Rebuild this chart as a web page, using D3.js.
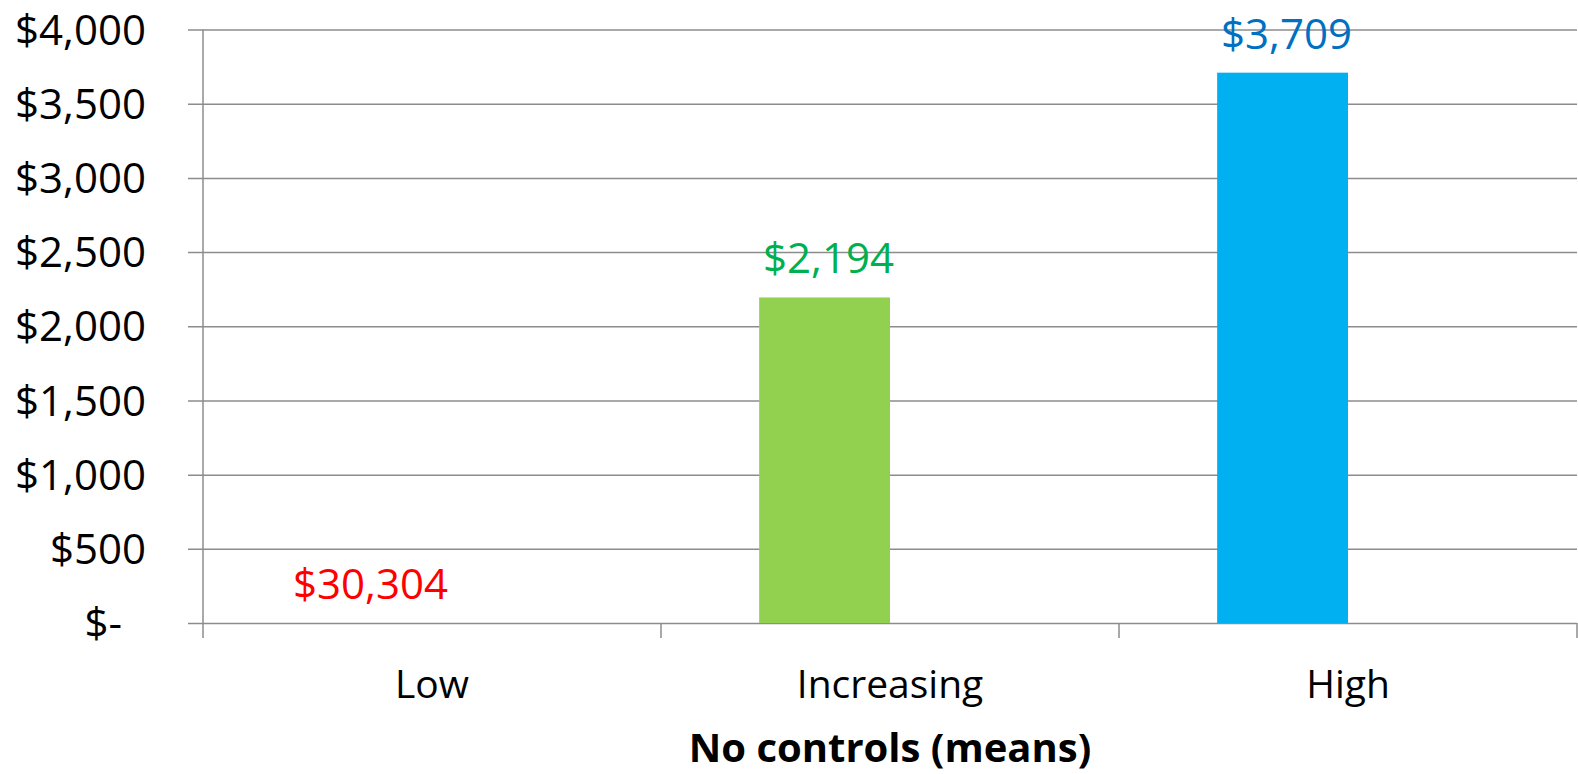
<!DOCTYPE html>
<html>
<head>
<meta charset="utf-8">
<script src="https://cdn.jsdelivr.net/npm/d3@7"></script>
<style>
  html, body { margin: 0; padding: 0; background: #fff; }
  svg { display: block; }
  svg text { font-family: "Open Sans", "Noto Sans", sans-serif; }
</style>
</head>
<body>
<svg id="chart" width="1578" height="774"></svg>
<script>
// Income groups and their mean values
const categories = ["Low", "Increasing", "High"];
const meanValues = [0, 2194, 3709];
const valueLabels = ["$30,304", "$2,194", "$3,709"];
const barColors = ["#FF0000", "#92D050", "#00B0F0"];
const labelColors = ["#FF0000", "#00B050", "#0070C0"];
const yTicks = [0, 500, 1000, 1500, 2000, 2500, 3000, 3500, 4000];
const xTitle = "No controls (means)";

// Two slots per category (the second one is unused), Excel-style gap of 150%
const slots = ["means", "unused"];

const svg = d3.select("#chart");
const plot = { left: 203, right: 1577, top: 29.5, bottom: 623 };

const x = d3.scaleBand()
  .domain(categories)
  .range([plot.left, plot.right])
  .paddingInner(0)
  .paddingOuter(0);

const xSlot = d3.scaleBand()
  .domain(slots)
  .range([0, x.bandwidth()])
  .paddingInner(0)
  .paddingOuter(0.75);

const y = d3.scaleLinear()
  .domain([0, 4000])
  .range([plot.bottom, plot.top]);

const gridColor = "#8C8C8C";
const fmt = d3.format(",");
const tickFormat = v => v === 0 ? "$-\u2007" : "$" + fmt(v);

// Y axis with gridlines across the plot
const yAxis = d3.axisLeft(y)
  .tickValues(yTicks)
  .tickFormat(tickFormat)
  .tickSize(-(plot.right - plot.left + 15))
  .tickPadding(0);

const gy = svg.append("g")
  .attr("transform", `translate(${plot.left - 15},0)`)
  .call(yAxis)
  .attr("font-family", null)
  .attr("font-size", null);
gy.select(".domain").remove();
gy.selectAll(".tick line")
  .attr("stroke", gridColor)
  .attr("stroke-width", 1.5);
gy.selectAll(".tick text")
  .attr("x", -42)
  .attr("dy", "0.35em")
  .attr("fill", "#000")
  .style("font-size", "42px");

// Vertical axis line
svg.append("line")
  .attr("x1", plot.left).attr("x2", plot.left)
  .attr("y1", plot.top).attr("y2", plot.bottom + 15)
  .attr("stroke", gridColor)
  .attr("stroke-width", 1.5);

// Category axis
const xAxis = d3.axisBottom(x).tickSize(0).tickPadding(0);
const gx = svg.append("g")
  .attr("transform", `translate(0,${plot.bottom})`)
  .call(xAxis)
  .attr("font-family", null)
  .attr("font-size", null);
gx.select(".domain").remove();
gx.selectAll(".tick text")
  .attr("y", 75)
  .attr("dy", 0)
  .attr("fill", "#000")
  .style("font-size", "39px");

// Category boundary tick marks
const bounds = categories.map(c => x(c)).concat([x(categories[categories.length - 1]) + x.bandwidth()]);
svg.append("g").selectAll("line")
  .data(bounds.slice(1))
  .join("line")
  .attr("x1", d => d).attr("x2", d => d)
  .attr("y1", plot.bottom).attr("y2", plot.bottom + 15)
  .attr("stroke", gridColor)
  .attr("stroke-width", 1.5);

// Bars
const data = categories.map((c, i) => ({
  cat: c, value: meanValues[i], label: valueLabels[i],
  fill: barColors[i], labelFill: labelColors[i]
}));

svg.append("g").selectAll("rect")
  .data(data)
  .join("rect")
  .attr("x", d => x(d.cat) + xSlot("means"))
  .attr("width", xSlot.bandwidth())
  .attr("y", d => y(d.value))
  .attr("height", d => y(0) - y(d.value))
  .attr("fill", d => d.fill);

// Value labels above bars
svg.append("g").selectAll("text")
  .data(data)
  .join("text")
  .attr("x", d => x(d.cat) + xSlot("means") + xSlot.bandwidth() / 2 + 4)
  .attr("y", d => y(d.value) - 24)
  .attr("text-anchor", "middle")
  .attr("fill", d => d.labelFill)
  .style("font-size", "42px")
  .text(d => d.label);

// Axis title
svg.append("text")
  .attr("x", (plot.left + plot.right) / 2)
  .attr("y", 762)
  .attr("text-anchor", "middle")
  .attr("fill", "#000")
  .style("font-size", "40px")
  .style("font-weight", "bold")
  .text(xTitle);
</script>
</body>
</html>
